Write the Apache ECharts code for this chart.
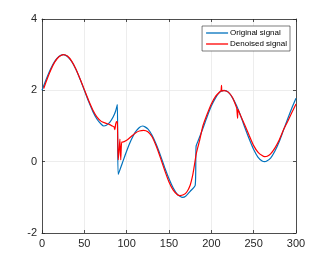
<!DOCTYPE html>
<html><head><meta charset="utf-8">
<script src="https://cdn.jsdelivr.net/npm/echarts@6/dist/echarts.min.js"></script>
<style>html,body{margin:0;padding:0;background:#fff}#c{width:327px;height:262px}</style>
</head><body><div id="c"></div>
<script>
var origX = [0,5,10,15,20,25,30,35,40,45,50,55,60,65,70,73,76,80,84,87,89,
  90,95,100,105,110,115,119,125,130,135,140,145,150,155,160,166,170,175,181,
  182,185,190,195,200,205,210,215,220,225,230,235,240,245,250,255,260,263,265,270,275,280,285,290,295,300];
var origY = [2.0,2.31,2.59,2.81,2.95,3.0,2.95,2.81,2.59,2.31,2.0,1.69,1.41,1.19,1.05,1.0,1.02,1.1,1.25,1.42,1.6,
  -0.36,-0.03,0.30,0.59,0.82,0.96,1.0,0.92,0.74,0.48,0.17,-0.17,-0.48,-0.74,-0.92,-1.0,-0.96,-0.83,-0.66,
  0.43,0.62,0.93,1.26,1.56,1.79,1.95,2.0,1.95,1.79,1.56,1.26,0.93,0.62,0.34,0.13,0.02,0.0,0.01,0.10,0.29,0.55,0.87,1.19,1.5,1.78];
var denX = [2,5,10,15,20,25,30,35,40,45,50,55,60,65,70,75,80,83,85,86,87,88,89,89.5,90,91,92,93,94,95,100,105,110,115,120,125,130,135,140,145,150,155,160,163,167,171,175,178,180,182,184,186,
  190,195,200,205,210,211.5,212,212.5,215,220,225,228,230,231,231.5,233,235,240,245,250,255,260,263,266,270,275,280,285,290,295,300];
var denY = [2.05,2.25,2.55,2.79,2.94,3.0,2.96,2.82,2.6,2.32,2.02,1.72,1.45,1.25,1.13,1.08,1.04,1.0,0.98,0.9,1.05,1.12,1.1,0.6,0.05,0.3,0.63,0.05,0.55,0.55,0.6,0.7,0.8,0.86,0.88,0.84,0.7,0.43,0.1,-0.25,-0.57,-0.8,-0.93,-0.95,-0.93,-0.85,-0.66,-0.38,-0.1,0.2,0.4,0.58,
  1.0,1.33,1.62,1.83,1.96,1.99,2.14,1.98,1.99,1.95,1.8,1.63,1.5,1.22,1.47,1.38,1.27,1.0,0.72,0.45,0.27,0.17,0.14,0.15,0.22,0.38,0.6,0.88,1.12,1.37,1.62];
var xTicks = [0,50,100,150,200,250,300];
var yTicks = [-2,0,2,4];

function pairs(xs, ys){ return xs.map(function(x,i){ return [x, ys[i]]; }); }

var chart = echarts.init(document.getElementById('c'));
var axisCol = '#262626';
var labelFont = {color:'#262626', fontSize:11, fontFamily:'Liberation Sans, Arial, sans-serif'};
chart.setOption({
  animation:false,
  grid:{left:42, right:31, top:19, bottom:29},
  xAxis:[{
    type:'value', min:xTicks[0], max:xTicks[xTicks.length-1], interval:50,
    axisLine:{onZero:false, lineStyle:{color:axisCol, width:0.8}},
    axisTick:{inside:true, length:3, lineStyle:{color:axisCol, width:0.8}},
    axisLabel:Object.assign({margin:5}, labelFont),
    splitLine:{show:true, lineStyle:{color:'#e8e8e8', width:0.8}}
  },{
    type:'value', position:'top', min:0, max:300, interval:50,
    axisLine:{onZero:false, lineStyle:{color:axisCol, width:0.8}},
    axisTick:{inside:true, length:3, lineStyle:{color:axisCol, width:0.8}},
    axisLabel:{show:false}, splitLine:{show:false}
  }],
  yAxis:[{
    type:'value', min:yTicks[0], max:yTicks[yTicks.length-1], interval:2,
    axisLine:{onZero:false, lineStyle:{color:axisCol, width:0.8}},
    axisTick:{inside:true, length:3, lineStyle:{color:axisCol, width:0.8}},
    axisLabel:Object.assign({margin:5}, labelFont),
    splitLine:{show:true, lineStyle:{color:'#e8e8e8', width:0.8}}
  },{
    type:'value', position:'right', min:-2, max:4, interval:2,
    axisLine:{onZero:false, lineStyle:{color:axisCol, width:0.8}},
    axisTick:{inside:true, length:3, lineStyle:{color:axisCol, width:0.8}},
    axisLabel:{show:false}, splitLine:{show:false}
  }],
  legend:{
    orient:'vertical', right:37, top:26,
    backgroundColor:'#fff', borderColor:axisCol, borderWidth:0.6,
    padding:[3,3,3,4], itemGap:3,
    itemWidth:22, itemHeight:1.3, icon:'rect',
    textStyle:{fontSize:8, color:'#000', fontFamily:'Liberation Sans, Arial, sans-serif', padding:[0,0,0,-3]},
    data:['Original signal','Denoised signal']
  },
  series:[{
    name:'Original signal', type:'line', showSymbol:false, symbol:'none',
    data:pairs(origX, origY), smooth:0.2,
    itemStyle:{color:'#0072BD'}, lineStyle:{color:'#0072BD', width:1.2}
  },{
    name:'Denoised signal', type:'line', showSymbol:false, symbol:'none',
    data:pairs(denX, denY), smooth:0.15,
    itemStyle:{color:'#FF0000'}, lineStyle:{color:'#FF0000', width:1.2}
  }]
});
</script></body></html>
